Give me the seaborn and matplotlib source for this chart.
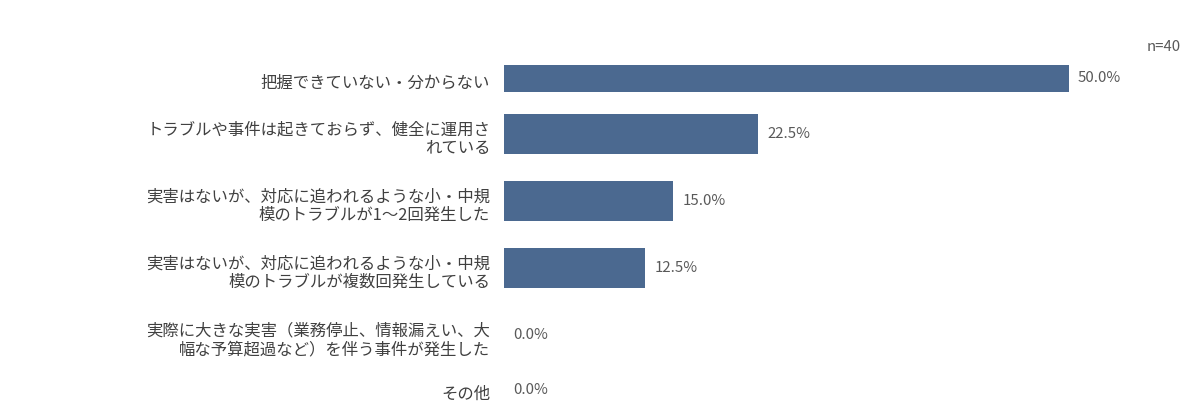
import numpy as np
import pandas as pd
import matplotlib
matplotlib.use("Agg")
import matplotlib.pyplot as plt
import seaborn as sns

categories = [
    "把握できていない・分からない",
    "トラブルや事件は起きておらず、健全に運用さ\nれている",
    "実害はないが、対応に追われるような小・中規\n模のトラブルが1〜2回発生した",
    "実害はないが、対応に追われるような小・中規\n模のトラブルが複数回発生している",
    "実際に大きな実害（業務停止、情報漏えい、大\n幅な予算超過など）を伴う事件が発生した",
    "その他",
]
values = [50.0, 22.5, 15.0, 12.5, 0.0, 0.0]
n_label = "n=40"

sns.set_theme(style="white")
plt.rcParams["font.family"] = ["Noto Sans CJK JP", "DejaVu Sans"]

# row heights follow the number of label lines
lines = np.array([c.count("\n") + 1 for c in categories])
row_h = 1.0 + 0.52 * (lines - 1)
edges = np.concatenate([[0], np.cumsum(row_h)])
centers = (edges[:-1] + edges[1:]) / 2
total = edges[-1]

df = pd.DataFrame({"cat": categories, "val": values, "pos": centers})

W, H = 1200, 416
PX = 44  # pixels per row unit
fig = plt.figure(figsize=(W / 100, H / 100), dpi=100)
ax = fig.add_axes([504 / W, 4 / H, 680 / W, (total * PX) / H])

bar_color = "#4b6990"
sns.barplot(data=df, x="val", y="pos", orient="y", native_scale=True,
            color=bar_color, saturation=1, ax=ax, width=0.6, edgecolor="none")

for p, rh in zip(ax.patches, row_h):
    cy = p.get_y() + p.get_height() / 2
    p.set_height(0.6 * rh)
    p.set_y(cy - 0.3 * rh)

ax.set_xlim(0, 60.2)
ax.set_ylim(total, 0)
# labels sit slightly below the bar centres in the reference
ax.set_yticks(centers + 2.5 / PX)
ax.set_yticklabels(categories, fontsize=11.8, color="#404040", linespacing=1.15)
ax.set_xticks([])
ax.tick_params(axis="y", length=0, pad=10)
ax.set_xlabel("")
ax.set_ylabel("")
for s in ax.spines.values():
    s.set_visible(False)

for cont in ax.containers:
    ax.bar_label(cont, labels=[f"{v:.1f}%" for v in values], padding=6.5,
                 fontsize=10.8, color="#595959")

fig.text(1181 / W, 1 - 47 / H, n_label, ha="right", va="center",
         fontsize=10.8, color="#595959")

fig.savefig("out.png", dpi=100)
